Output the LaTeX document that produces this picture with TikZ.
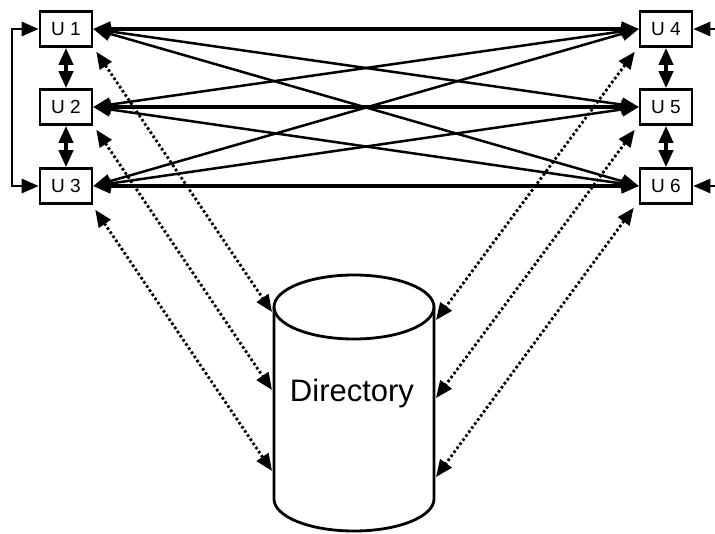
\documentclass[tikz,border=0pt]{standalone}
\usepackage{fontspec}
\setmainfont{Liberation Sans}
\usetikzlibrary{arrows.meta,calc}
\begin{document}
\begin{tikzpicture}[x=1pt,y=-1pt,
  ubox/.style={draw,line width=2.6pt,minimum width=52pt,minimum height=35pt,inner sep=0pt,font=\fontsize{19}{19}\selectfont},
  link/.style={line width=2.5pt,{Triangle[length=17pt,width=14pt]}-{Triangle[length=17pt,width=14pt]}},
  mainlink/.style={link,line width=3.8pt},
  dirlink/.style={line width=2.8pt,dash pattern=on 2.6pt off 2.4pt,{Triangle[length=17pt,width=14pt]}-{Triangle[length=17pt,width=14pt]}},
  oneway/.style={line width=2.6pt,-{Triangle[length=17pt,width=14pt]}}]
\useasboundingbox (0,0) rectangle (715,533);

% user boxes
\node[ubox] (U1) at (66,29) {U 1};
\node[ubox] (U2) at (66,107) {U 2};
\node[ubox] (U3) at (66,186) {U 3};
\node[ubox] (U4) at (666,29) {U 4};
\node[ubox] (U5) at (666,107) {U 5};
\node[ubox] (U6) at (666,186) {U 6};

% directory cylinder
\draw[line width=2.8pt,fill=white] (274,307) -- (274,499) arc[start angle=180,end angle=0,x radius=80,y radius=32] -- (434,307);
\draw[line width=2.8pt] (354,307) ellipse[x radius=80,y radius=32];
\node[font=\fontsize{31}{31}\selectfont] (dir) at (352,393) {Directory};
\coordinate (dL1) at (272,312);
\coordinate (dL2) at (272,390);
\coordinate (dL3) at (272,471);
\coordinate (dR1) at (436,320);
\coordinate (dR2) at (436,398);
\coordinate (dR3) at (436,477);

% full mesh between the two groups
\foreach \a in {1,2,3}{
  \foreach \b in {4,5,6}{
    \draw[link] (U\a.east) -- (U\b.west);
  }
}
\draw[mainlink] (U1.east) -- (U4.west);
\draw[mainlink] (U2.east) -- (U5.west);
\draw[mainlink] (U3.east) -- (U6.west);

% links inside each group
\draw[mainlink] (U1.south) -- (U2.north);
\draw[mainlink] (U2.south) -- (U3.north);
\draw[mainlink] (U4.south) -- (U5.north);
\draw[mainlink] (U5.south) -- (U6.north);
\coordinate (loop) at (12,29);
\draw[link,line width=2.8pt] (U1.west) -- (loop) -- (loop |- U3.west) -- (U3.west);

% incoming links from the right
\coordinate (in4) at (716,29);
\coordinate (in6) at (716,186);
\draw[oneway] (in4) -- (U4.east);
\draw[oneway] (in6) -- (U6.east);

% directory lookups
\draw[dirlink] ($(U1.south east)+(3,4)$) -- (dL1);
\draw[dirlink] ($(U2.south east)+(3,4)$) -- (dL2);
\draw[dirlink] ($(U3.south east)+(2,5)$) -- (dL3);
\draw[dirlink] ($(U4.south west)+(-4,4)$) -- (dR1);
\draw[dirlink] ($(U5.south west)+(-4,4)$) -- (dR2);
\draw[dirlink] ($(U6.south west)+(-5,3)$) -- (dR3);
\end{tikzpicture}
\end{document}
